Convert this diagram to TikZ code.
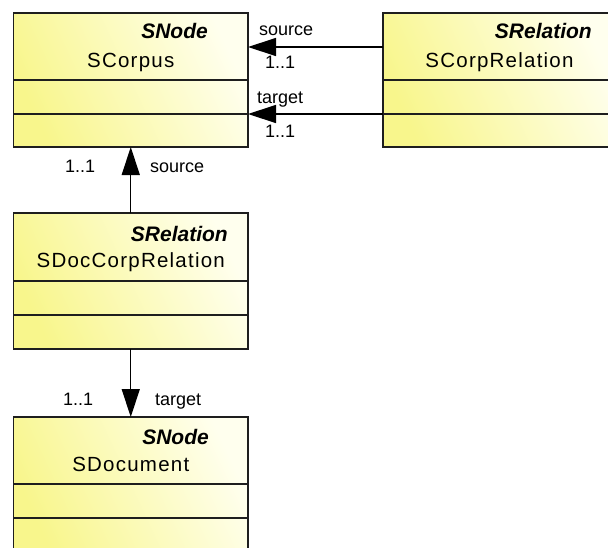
\documentclass[tikz,border=0pt]{standalone}
\usepackage{fontspec}
\setmainfont{Liberation Sans}
\newfontfamily\namefont[LetterSpace=6]{Liberation Sans}
\usetikzlibrary{arrows.meta}
\definecolor{umlyellow}{RGB}{248,246,140}
\definecolor{umlwhite}{RGB}{255,255,238}
\definecolor{umlline}{RGB}{30,30,30}
\tikzset{
  umlbox/.style={draw=umlline, line width=1.3pt, left color=umlyellow, right color=umlwhite, shading angle=115, minimum width=234.5pt, inner sep=0pt, outer sep=0pt},
  divider/.style={draw=umlline, line width=1.3pt},
  stereo/.style={font=\fontsize{21}{24}\selectfont\bfseries\itshape, inner sep=0pt, anchor=base east, text=black},
  clsname/.style={font=\namefont\fontsize{20.5}{24}\selectfont, inner sep=0pt, anchor=base, text=black},
  lbl/.style={font=\fontsize{18}{21}\selectfont, inner sep=0pt, anchor=base west, text=black},
  assoc/.style={draw=black, line width=1.3pt, -{Triangle[length=28pt,width=18pt,fill=black]}}
}
\begin{document}
\begin{tikzpicture}[x=1pt,y=-1pt]
\clip (0,0) rectangle (608,547);
\fill[white] (0,0) rectangle (608,547);
% boxes
\node[umlbox, minimum height=134pt] (corpus) at (130.75,80) {};
\node[umlbox, minimum height=134pt] (corprel) at (500.25,80) {};
\node[umlbox, minimum height=136pt] (doccorp) at (130.75,281) {};
\node[umlbox, minimum height=134pt] (document) at (130.75,484) {};
% dividers
\coordinate (d1) at (0,80);
\coordinate (d2) at (0,114);
\coordinate (d3) at (0,281);
\coordinate (d4) at (0,315);
\coordinate (d5) at (0,484);
\coordinate (d6) at (0,518);
\draw[divider] (corpus.west |- d1) -- (corpus.east |- d1);
\draw[divider] (corpus.west |- d2) -- (corpus.east |- d2);
\draw[divider] (corprel.west |- d1) -- (corprel.east |- d1);
\draw[divider] (corprel.west |- d2) -- (corprel.east |- d2);
\draw[divider] (doccorp.west |- d3) -- (doccorp.east |- d3);
\draw[divider] (doccorp.west |- d4) -- (doccorp.east |- d4);
\draw[divider] (document.west |- d5) -- (document.east |- d5);
\draw[divider] (document.west |- d6) -- (document.east |- d6);
% texts
\node[stereo] (st1) at (208,38) {SNode};
\node[clsname] (n1) at (130.75,67) {SCorpus};
\node[stereo] (st2) at (592,38) {SRelation};
\node[clsname] (n2) at (499.5,67) {SCorpRelation};
\node[stereo] (st3) at (228,241) {SRelation};
\node[clsname] (n3) at (130.75,267) {SDocCorpRelation};
\node[stereo] (st4) at (209,444) {SNode};
\node[clsname] (n4) at (130.75,471) {SDocument};
% connectors
\coordinate (srcy) at (0,47);
\draw[assoc] (corprel.west |- srcy) -- (corpus.east |- srcy);
\draw[assoc] (corprel.west |- d2) -- (corpus.east |- d2);
\draw[assoc] (doccorp.north) -- (corpus.south);
\draw[assoc] (doccorp.south) -- (document.north);
% labels
\node[lbl] (l1) at (259,35) {source};
\node[lbl] (l2) at (265,68) {1..1};
\node[lbl] (l3) at (257,103) {target};
\node[lbl] (l4) at (265,137) {1..1};
\node[lbl] (l5) at (65,172) {1..1};
\node[lbl] (l6) at (150,172) {source};
\node[lbl] (l7) at (63,405) {1..1};
\node[lbl] (l8) at (155,405) {target};
\end{tikzpicture}
\end{document}
